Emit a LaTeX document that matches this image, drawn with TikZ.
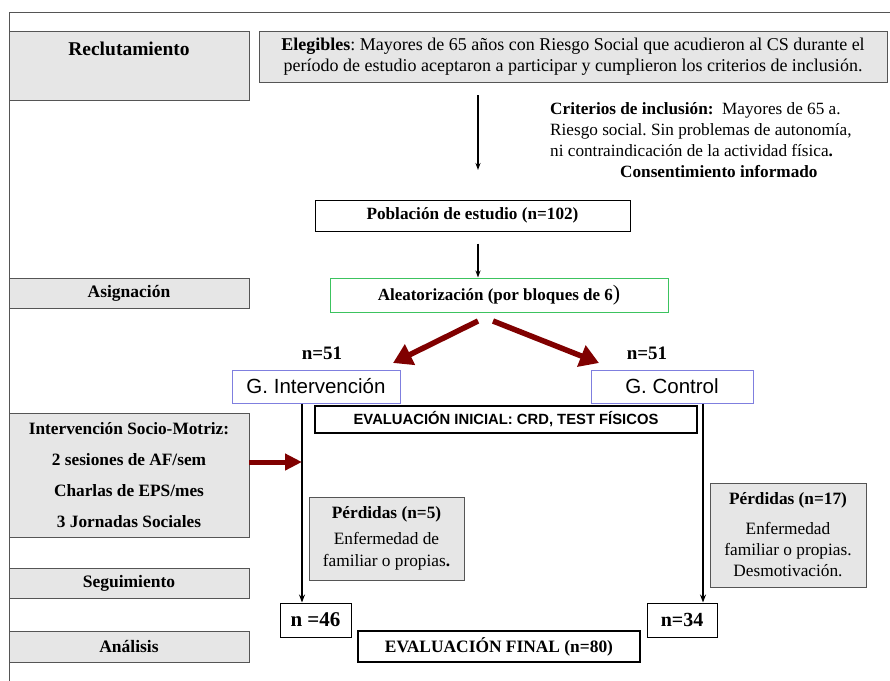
\documentclass[tikz,border=0pt]{standalone}
\usepackage{fontspec}
\setmainfont{Liberation Serif}
\setsansfont{Liberation Sans}
\usepackage{tikz}
\usetikzlibrary{arrows.meta,positioning,calc}
\usepackage{xcolor}
\definecolor{boxgray}{HTML}{E6E6E6}
\definecolor{linegray}{HTML}{555555}
\definecolor{arrowred}{HTML}{800000}
\definecolor{groupblue}{HTML}{7F7FDF}
\definecolor{randgreen}{HTML}{3CC35F}
\frenchspacing

\begin{document}
\begin{tikzpicture}[
  x=1pt, y=-1pt,
  every node/.style={inner sep=0pt, align=center},
  stage/.style={draw=linegray, fill=boxgray, line width=0.9pt, minimum width=240pt, font=\fontsize{17.5}{20}\selectfont\bfseries},
  infobox/.style={draw=linegray, fill=boxgray, line width=0.9pt},
  plainbox/.style={draw=black, line width=1pt, fill=white},
  groupbox/.style={draw=groupblue, line width=1pt, fill=white, font=\sffamily\fontsize{20.5}{24}\selectfont},
  arr/.style={-{Stealth[length=7pt,width=5pt]}, line width=1.2pt},
  flow/.style={-{Stealth[length=8pt,width=6pt]}, line width=2pt},
  redarr/.style={-{Triangle[length=19pt,width=22pt]}, line width=5.5pt, arrowred},
]
  \useasboundingbox (0,0) rectangle (890,680);
  \draw[linegray, line width=1pt] (9,682) -- (9,12) -- (892,12);

  % left column: study stages
  \node[stage, minimum height=69pt, anchor=north] (recl) at (129,31) {};
  \node[font=\fontsize{19.5}{22}\selectfont\bfseries] (recltext) at (129,49) {Reclutamiento};
  \node[stage, minimum height=30pt] (asig) at (129,293) {Asignación};
  \node[infobox, minimum width=240pt, minimum height=124pt, font=\fontsize{17.3}{31}\selectfont\bfseries] (interv) at (129,475)
    {Intervención Socio-Motriz:\\2 sesiones de AF/sem\\Charlas de EPS/mes\\3 Jornadas Sociales};
  \node[stage, minimum height=30pt] (segu) at (129,583) {Seguimiento};
  \node[stage, minimum height=31pt] (anal) at (129,646.5) {Análisis};

  % main flow
  \node[infobox, minimum width=628pt, minimum height=51pt, font=\fontsize{18}{20.5}\selectfont] (eleg) at (573,56.5)
    {\textbf{Elegibles}: Mayores de 65 años con Riesgo Social que acudieron al CS durante el\\período de estudio aceptaron a participar y cumplieron los criterios de inclusión.};
  \node[anchor=north west, align=left, font=\fontsize{17.2}{21}\selectfont] (crit) at (550,102)
    {\textbf{Criterios de inclusión:}\ \ Mayores de 65 a.\\Riesgo social. Sin problemas de autonomía,\\ni contraindicación de la actividad física\textbf{.}\\\hspace*{70pt}\textbf{Consentimiento informado}};
  \node[plainbox, minimum width=315pt, minimum height=31pt, font=\fontsize{17.2}{20}\selectfont\bfseries] (pobl) at (472.5,215.5) {Población de estudio (n=102)};
  \node[draw=randgreen, line width=1pt, minimum width=338pt, minimum height=34pt, font=\fontsize{17}{20}\selectfont\bfseries] (aleat) at (499,295)
    {Aleatorización (por bloques de 6{\mdseries\fontsize{22}{22}\selectfont)}};

  \node[font=\fontsize{19}{22}\selectfont\bfseries] (n51a) at (322,353) {n=51};
  \node[font=\fontsize{19}{22}\selectfont\bfseries] (n51b) at (647,353) {n=51};
  \node[groupbox, minimum width=168pt, minimum height=33pt] (gint) at (316,386.5) {G. Intervención};
  \node[groupbox, minimum width=162pt, minimum height=33pt] (gctl) at (672,386.5) {G. Control};
  \node[plainbox, line width=1.3pt, minimum width=382pt, minimum height=27pt, font=\sffamily\fontsize{14.8}{17}\selectfont\bfseries] (evini) at (506,419.5)
    {EVALUACIÓN INICIAL: CRD, TEST FÍSICOS};

  \node[infobox, minimum width=155pt, minimum height=83pt, font=\fontsize{17.3}{22}\selectfont] (perd5) at (386.5,538.5)
    {\textbf{Pérdidas (n=5)}\\[4pt]Enfermedad de\\familiar o propias\textbf{.}};
  \node[infobox, minimum width=156pt, minimum height=104pt, font=\fontsize{17.3}{21}\selectfont] (perd17) at (788,535)
    {\textbf{Pérdidas (n=17)}\\[9pt]Enfermedad\\familiar o propias.\\Desmotivación.};

  \node[plainbox, minimum width=71pt, minimum height=34pt, font=\fontsize{21}{24}\selectfont\bfseries] (n46) at (315.5,620) {n =46};
  \node[plainbox, minimum width=70pt, minimum height=34pt, font=\fontsize{20}{24}\selectfont\bfseries] (n34) at (682,620) {n=34};
  \node[plainbox, line width=1.6pt, minimum width=282pt, minimum height=31pt, font=\fontsize{17.4}{20}\selectfont\bfseries] (evfin) at (499,646.5) {EVALUACIÓN FINAL (n=80)};

  % connectors
  \coordinate (a1top) at (478,95);
  \coordinate (a1end) at (478,170);
  \draw[arr] (a1top) -- (a1end);
  \coordinate (a2) at (478,0);
  \draw[arr] ([yshift=-12pt]pobl.south -| a2) -- (aleat.north -| a2);

  \coordinate (splitl) at (478,321);
  \coordinate (splitr) at (493,321);
  \draw[redarr] (splitl) -- (393,363);
  \draw[redarr] (splitr) -- (599,363);

  \coordinate (leftline) at (302,0);
  \coordinate (rightline) at (703,0);
  \draw[flow] (gint.south -| leftline) -- (n46.north -| leftline);
  \draw[flow] (gctl.south -| rightline) -- (n34.north -| rightline);
  \draw[redarr, line width=5pt, -{Triangle[length=17pt,width=16pt]}] ([yshift=13pt]interv.east) -- ([yshift=13pt]interv.east -| leftline);
\end{tikzpicture}
\end{document}
